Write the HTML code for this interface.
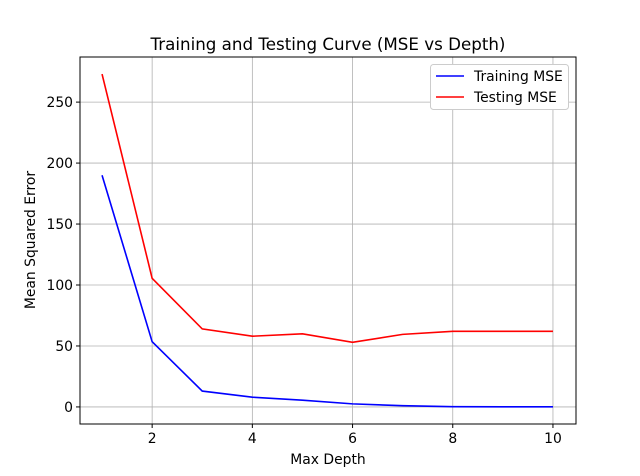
<!DOCTYPE html>
<html><head><meta charset="utf-8"><style>
body{margin:0;background:#fff;}
svg{display:block;font-family:"DejaVu Sans","Liberation Sans",sans-serif;}
</style></head><body>
<svg id="chart" width="640" height="476" viewBox="0 0 640 476">
<rect x="0" y="0" width="640" height="476" fill="#fff"/>
<g id="grid"></g>
<g id="series"></g>
<rect x="80" y="57" width="496" height="367" fill="none" stroke="#000" stroke-width="1"/>
<g id="ticks"></g>
<text x="328" y="50" text-anchor="middle" font-size="16.7">Training and Testing Curve (MSE vs Depth)</text>
<text x="328" y="464" text-anchor="middle" font-size="13.9">Max Depth</text>
<text transform="translate(35,240) rotate(-90)" text-anchor="middle" font-size="13.9">Mean Squared Error</text>
<g>
<rect x="430.5" y="64.5" width="138" height="45" rx="3" fill="#fff" stroke="#ccc"/>
<g>
<line x1="436" y1="76" x2="464" y2="76" stroke="#0000ff" stroke-width="1.5"/>
<text x="474" y="81" font-size="13.9">Training MSE</text></g>
<g>
<line x1="436" y1="97" x2="464" y2="97" stroke="#ff0000" stroke-width="1.5"/>
<text x="474" y="102" font-size="13.9">Testing MSE</text></g>
</g>
</svg>
<script>
const depths=[1,2,3,4,5,6,7,8,9,10];
const trainMSE=[190,53.5,13,8,5.5,2.5,1,0.2,0.1,0.1];
const testMSE=[273,105.5,64,58,60,53,59.5,62,62,62];
const xTicks=[2,4,6,8,10];
const yTicks=[0,50,100,150,200,250];
const NS='http://www.w3.org/2000/svg';
function xs(v){return 80+(v-0.56)/(10.46-0.56)*496;}
function ys(v){return 424-(v+14)/(287+14)*367;}
const grid=document.getElementById('grid'),ticks=document.getElementById('ticks'),ser=document.getElementById('series');
function mk(t,a,p){const e=document.createElementNS(NS,t);for(const k in a)e.setAttribute(k,a[k]);p.appendChild(e);return e;}
xTicks.forEach(v=>{const x=xs(v);
const g=mk('line',{x1:x,y1:57,x2:x,y2:424,stroke:'#b0b0b0','stroke-width':0.8},grid);


mk('line',{x1:x,y1:424,x2:x,y2:428,stroke:'#000'},ticks);
const t=mk('text',{x:x,y:443,'text-anchor':'middle','font-size':13.9},ticks);t.textContent=v;

});
yTicks.forEach(v=>{const y=ys(v);
const g=mk('line',{x1:80,y1:y,x2:576,y2:y,stroke:'#b0b0b0','stroke-width':0.8},grid);


mk('line',{x1:76,y1:y,x2:80,y2:y,stroke:'#000'},ticks);
const t=mk('text',{x:73,y:y+5,'text-anchor':'end','font-size':13.9},ticks);t.textContent=v;

});
function line(vals,col,name){const p=mk('polyline',{points:depths.map((d,i)=>xs(d)+','+ys(vals[i])).join(' '),fill:'none',stroke:col,'stroke-width':1.6},ser);

}
line(trainMSE,'#0000ff','training-mse-line');
line(testMSE,'#ff0000','testing-mse-line');
</script>
</body></html>
